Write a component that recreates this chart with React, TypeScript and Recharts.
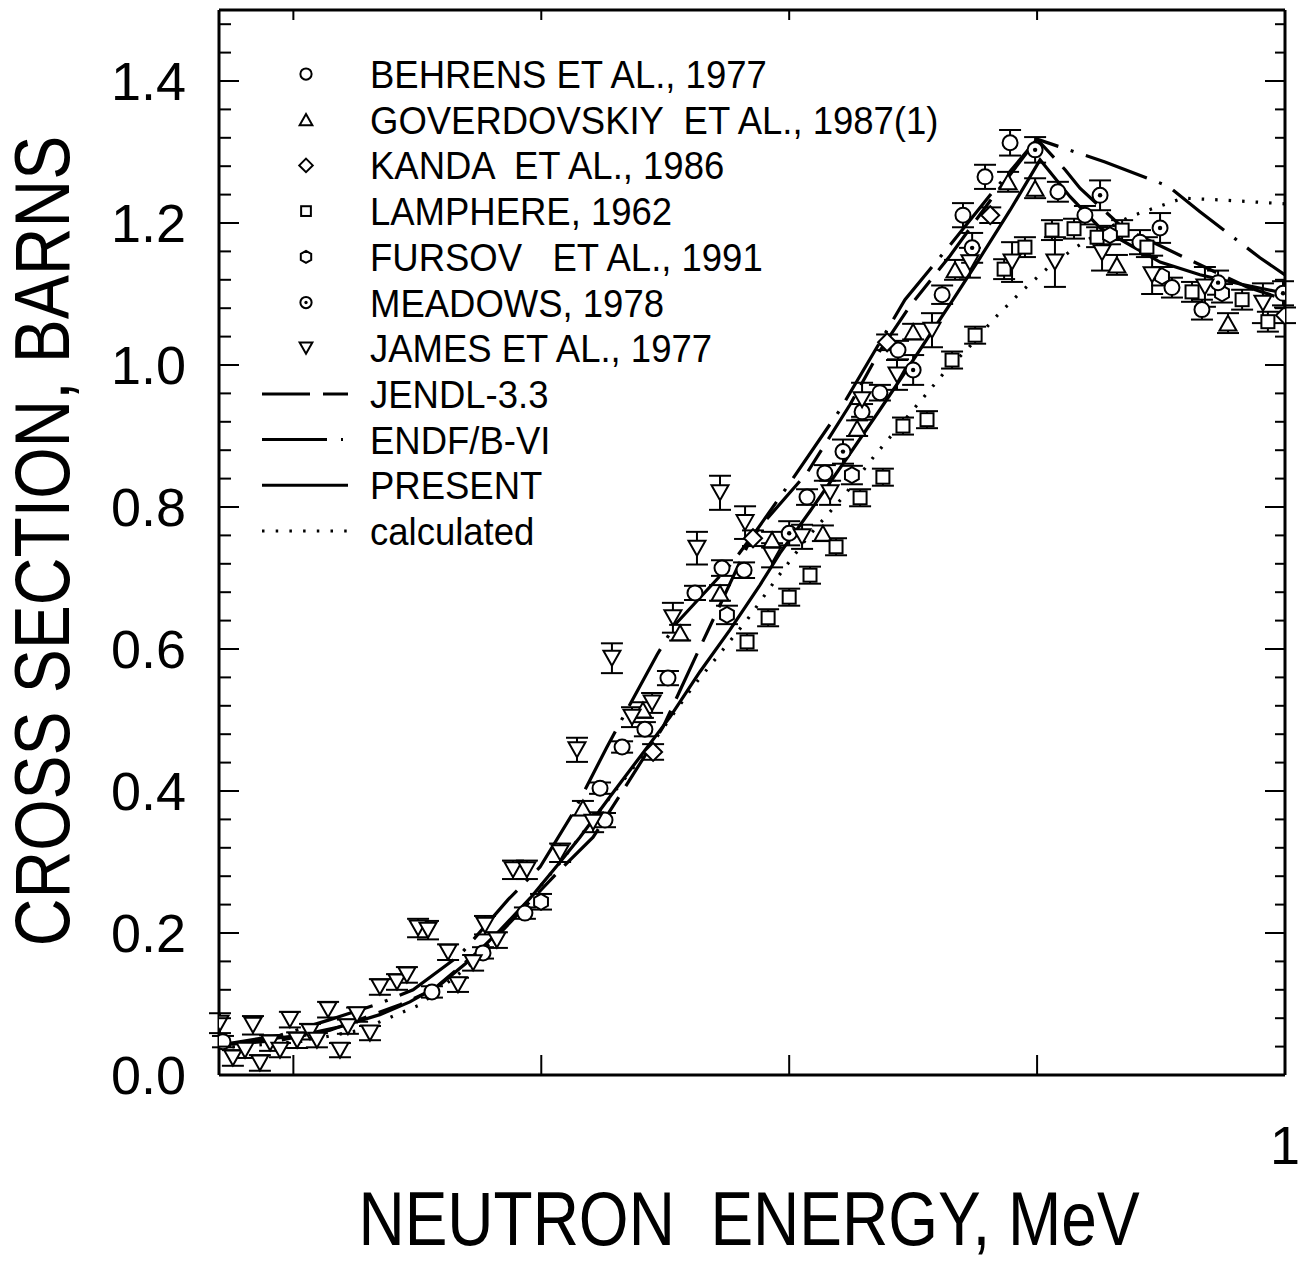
import React from 'react';
import { ComposedChart, Line, Scatter, XAxis, YAxis, ErrorBar, ReferenceLine } from 'recharts';

const FONT = '"Liberation Sans", Arial, Helvetica, sans-serif';

const W = 1305;
const H = 1272;
// plot frame, page pixels
const PLOT = { left: 219, right: 1285, top: 10, bottom: 1075 };
const AXIS_W = 40;
const AXIS_H = 40;

const X_DOMAIN = [0.57, 1.0];
const Y_DOMAIN = [0, 1.5];
const X_TICKS = [0.6, 0.7, 0.8, 0.9, 1.0];
const Y_TICKS = [
  0, 0.04, 0.08, 0.12, 0.16, 0.2, 0.24, 0.28, 0.32, 0.36, 0.4, 0.44, 0.48, 0.52, 0.56,
  0.6, 0.64, 0.68, 0.72, 0.76, 0.8, 0.84, 0.88, 0.92, 0.96, 1.0, 1.04, 1.08, 1.12, 1.16,
  1.2, 1.24, 1.28, 1.32, 1.36, 1.4, 1.44, 1.48,
];
const Y_LABELS = ['0.0', '0.2', '0.4', '0.6', '0.8', '1.0', '1.2', '1.4'];

// [energy MeV, cross section b, error b]
const BEHRENS = [
  [0.5716, 0.047, 0.008], [0.6559, 0.117, 0.008], [0.6765, 0.172, 0.008], [0.6934, 0.228, 0.008],
  [0.7237, 0.404, 0.008], [0.7257, 0.359, 0.010], [0.7326, 0.462, 0.008], [0.7418, 0.487, 0.010],
  [0.7511, 0.559, 0.010], [0.762, 0.679, 0.010], [0.7729, 0.714, 0.011], [0.7818, 0.711, 0.011],
  [0.8072, 0.814, 0.011], [0.8144, 0.848, 0.011], [0.8294, 0.934, 0.011], [0.8366, 0.961, 0.011],
  [0.8439, 1.021, 0.013], [0.8617, 1.099, 0.013], [0.8701, 1.211, 0.017], [0.879, 1.265, 0.017],
  [0.8891, 1.313, 0.018], [0.9084, 1.244, 0.014], [0.9193, 1.211, 0.013], [0.9415, 1.173, 0.017],
  [0.9544, 1.109, 0.014], [0.9665, 1.078, 0.014],
];
const GOVERDOVSKIY = [
  [0.7168, 0.376, 0.010], [0.741, 0.514, 0.011], [0.756, 0.623, 0.011], [0.7721, 0.679, 0.011],
  [0.7931, 0.754, 0.011], [0.8136, 0.763, 0.011], [0.8274, 0.911, 0.011], [0.85, 1.047, 0.011],
  [0.8669, 1.134, 0.014], [0.8883, 1.258, 0.014], [0.8992, 1.249, 0.014], [0.9322, 1.141, 0.014],
  [0.977, 1.059, 0.014],
];
const KANDA = [
  [0.7451, 0.455, 0.011], [0.7854, 0.756, 0.011], [0.8395, 1.032, 0.011], [0.8811, 1.211, 0.011],
  [1.0, 1.070, 0.011],
];
const LAMPHERE = [
  [0.783, 0.610, 0.012], [0.7915, 0.644, 0.012], [0.8, 0.673, 0.012], [0.8084, 0.704, 0.012],
  [0.8189, 0.744, 0.012], [0.8286, 0.813, 0.012], [0.8378, 0.842, 0.012], [0.8459, 0.914, 0.012],
  [0.8556, 0.923, 0.012], [0.8657, 1.007, 0.012], [0.875, 1.042, 0.012], [0.8867, 1.135, 0.014],
  [0.8951, 1.166, 0.014], [0.906, 1.190, 0.014], [0.9149, 1.192, 0.014], [0.9242, 1.180, 0.014],
  [0.9343, 1.190, 0.014], [0.9443, 1.166, 0.014], [0.9625, 1.103, 0.014], [0.9827, 1.092, 0.014],
  [0.9931, 1.061, 0.014],
];
const FURSOV = [
  [0.6999, 0.244, 0.011], [0.7749, 0.648, 0.013], [0.8253, 0.845, 0.013], [0.9294, 1.183, 0.013],
  [0.9504, 1.125, 0.013], [0.9746, 1.101, 0.013],
];
const MEADOWS = [
  [0.8, 0.763, 0.017], [0.8217, 0.878, 0.017], [0.85, 0.993, 0.021], [0.8738, 1.165, 0.021],
  [0.8992, 1.303, 0.018], [0.9254, 1.239, 0.021], [0.9496, 1.193, 0.021], [0.973, 1.116, 0.017],
  [0.9992, 1.101, 0.017],
];
const JAMES = [
  [0.5704, 0.073, 0.014], [0.5756, 0.024, 0.011], [0.5805, 0.035, 0.011], [0.5837, 0.070, 0.013],
  [0.5865, 0.017, 0.011], [0.5906, 0.045, 0.011], [0.5946, 0.035, 0.010], [0.5986, 0.078, 0.011],
  [0.6015, 0.049, 0.011], [0.6067, 0.061, 0.011], [0.6095, 0.049, 0.010], [0.614, 0.092, 0.011],
  [0.6188, 0.035, 0.010], [0.622, 0.068, 0.010], [0.6257, 0.085, 0.010], [0.6309, 0.059, 0.010],
  [0.6349, 0.124, 0.011], [0.6418, 0.131, 0.011], [0.6458, 0.141, 0.011], [0.6503, 0.207, 0.013],
  [0.6543, 0.204, 0.013], [0.6624, 0.173, 0.011], [0.6664, 0.127, 0.010], [0.6725, 0.158, 0.011],
  [0.6773, 0.211, 0.013], [0.6821, 0.190, 0.011], [0.6886, 0.289, 0.013], [0.6942, 0.289, 0.013],
  [0.7076, 0.313, 0.013], [0.7144, 0.458, 0.017], [0.7209, 0.356, 0.014], [0.7285, 0.587, 0.021],
  [0.7366, 0.504, 0.014], [0.7447, 0.524, 0.014], [0.7531, 0.644, 0.021], [0.7628, 0.742, 0.023],
  [0.7721, 0.820, 0.024], [0.7822, 0.778, 0.023], [0.7931, 0.732, 0.017], [0.8052, 0.758, 0.017],
  [0.8165, 0.820, 0.017], [0.8294, 0.951, 0.024], [0.8435, 0.986, 0.021], [0.8576, 1.049, 0.024],
  [0.8729, 1.144, 0.021], [0.8899, 1.145, 0.028], [0.9072, 1.145, 0.035], [0.9262, 1.158, 0.025],
  [0.9464, 1.127, 0.027], [0.9677, 1.110, 0.028], [0.9911, 1.087, 0.028],
];

// evaluated curves: [energy MeV, cross section b]
const JENDL = [
  [0.57, 0.042], [0.5946, 0.049], [0.6148, 0.063], [0.643, 0.099], [0.6563, 0.120], [0.6834, 0.200],
  [0.7076, 0.289], [0.7209, 0.335], [0.733, 0.401], [0.737, 0.423], [0.7491, 0.490], [0.7632, 0.596],
  [0.7721, 0.662], [0.783, 0.744], [0.7882, 0.772], [0.8072, 0.848], [0.8245, 0.944], [0.8366, 1.020],
  [0.8487, 1.083], [0.8649, 1.154], [0.881, 1.231], [0.9, 1.318], [0.9113, 1.275], [0.9173, 1.249],
  [0.9347, 1.193], [0.9597, 1.151], [0.9847, 1.110], [1.0, 1.092],
];
const ENDF = [
  [0.57, 0.042], [0.5946, 0.056], [0.6148, 0.078], [0.6349, 0.101], [0.6483, 0.120], [0.6672, 0.169],
  [0.6866, 0.247], [0.6995, 0.293], [0.7128, 0.369], [0.7265, 0.462], [0.733, 0.504], [0.7467, 0.592],
  [0.7539, 0.634], [0.7769, 0.721], [0.787, 0.768], [0.8003, 0.834], [0.8205, 0.937], [0.8354, 1.025],
  [0.8467, 1.092], [0.8649, 1.169], [0.881, 1.239], [0.9, 1.318], [0.9153, 1.300], [0.9274, 1.286],
  [0.9528, 1.252], [0.9657, 1.216], [0.9899, 1.151], [1.0, 1.127],
];
const PRESENT = [
  [0.57, 0.042], [0.5865, 0.049], [0.6027, 0.056], [0.6188, 0.068], [0.6349, 0.085], [0.647, 0.103],
  [0.6591, 0.127], [0.6712, 0.162], [0.6834, 0.204], [0.6955, 0.249], [0.7076, 0.300], [0.7156, 0.335],
  [0.7277, 0.392], [0.7398, 0.448], [0.7519, 0.504], [0.764, 0.568], [0.7761, 0.627], [0.7882, 0.690],
  [0.7963, 0.735], [0.8084, 0.794], [0.8233, 0.869], [0.8366, 0.937], [0.8487, 1.000], [0.8661, 1.092],
  [0.877, 1.151], [0.8891, 1.218], [0.9012, 1.289], [0.9133, 1.237], [0.9254, 1.193], [0.9375, 1.169],
  [0.9496, 1.145], [0.9657, 1.127], [0.9819, 1.114], [1.0, 1.101],
];
const CALCULATED = [
  [0.57, 0.038], [0.6027, 0.047], [0.6269, 0.063], [0.6511, 0.099], [0.6712, 0.155], [0.6914, 0.232],
  [0.7076, 0.299], [0.7237, 0.373], [0.7439, 0.463], [0.7612, 0.547], [0.783, 0.641], [0.7951, 0.700],
  [0.8076, 0.758], [0.8217, 0.814], [0.8346, 0.873], [0.8483, 0.930], [0.8625, 0.989], [0.8725, 1.025],
  [0.8826, 1.065], [0.8935, 1.103], [0.9044, 1.137], [0.9157, 1.166], [0.9254, 1.187], [0.9375, 1.209],
  [0.9488, 1.223], [0.9589, 1.235], [0.9766, 1.232], [1.0, 1.227],
];

const MARKER_SERIES = [
  { label: 'BEHRENS ET AL., 1977', kind: 'circle', data: BEHRENS },
  { label: 'GOVERDOVSKIY  ET AL., 1987(1)', kind: 'triup', data: GOVERDOVSKIY },
  { label: 'KANDA  ET AL., 1986', kind: 'diamond', data: KANDA },
  { label: 'LAMPHERE, 1962', kind: 'square', data: LAMPHERE },
  { label: 'FURSOV   ET AL., 1991', kind: 'hexagon', data: FURSOV },
  { label: 'MEADOWS, 1978', kind: 'dotcircle', data: MEADOWS },
  { label: 'JAMES ET AL., 1977', kind: 'tridown', data: JAMES },
];
const LINE_SERIES = [
  { label: 'JENDL-3.3', data: JENDL, dash: '50 13 25 13', legendDash: '48 13 25' },
  { label: 'ENDF/B-VI', data: ENDF, dash: '65 13 3 13', legendDash: '65 14 2' },
  { label: 'PRESENT', data: PRESENT, dash: undefined, legendDash: undefined },
  { label: 'calculated', data: CALCULATED, dash: '2.5 11', legendDash: '2.5 11.2' },
];

const toPoints = (rows: number[][]) => rows.map(([x, y, err]) => ({ x, y, err }));

function Mark({ kind, cx, cy, s = 1 }: { kind: string; cx: number; cy: number; s?: number }) {
  const st = { fill: '#fff', stroke: '#000', strokeWidth: 2 };
  if (kind === 'circle') return <circle cx={cx} cy={cy} r={7.5 * s} {...st} />;
  if (kind === 'dotcircle')
    return (
      <g>
        <circle cx={cx} cy={cy} r={7.5 * s} {...st} />
        <circle cx={cx} cy={cy} r={2.2 * s} fill="#000" />
      </g>
    );
  if (kind === 'triup' || kind === 'tridown') {
    const w = 8.5 * s;
    const h = 7.5 * s;
    const d = kind === 'triup' ? 1 : -1;
    return <polygon points={`${cx},${cy - d * h} ${cx + w},${cy + d * h} ${cx - w},${cy + d * h}`} {...st} />;
  }
  if (kind === 'diamond') {
    const r = 9 * s;
    return <polygon points={`${cx},${cy - r} ${cx + r},${cy} ${cx},${cy + r} ${cx - r},${cy}`} {...st} />;
  }
  if (kind === 'square') {
    const a = 6.5 * s;
    return <rect x={cx - a} y={cy - a} width={2 * a} height={2 * a} {...st} />;
  }
  // hexagon, pointy top
  const r = 8 * s;
  const pts = [-90, -30, 30, 90, 150, 210]
    .map((a) => `${cx + r * Math.cos((a * Math.PI) / 180)},${cy + r * Math.sin((a * Math.PI) / 180)}`)
    .join(' ');
  return <polygon points={pts} {...st} />;
}

function XTick(props: any) {
  const { x, payload } = props;
  return (
    <g>
      <line x1={x} x2={x} y1={PLOT.bottom} y2={PLOT.bottom - 20} stroke="#000" strokeWidth={2} />
      <line x1={x} x2={x} y1={PLOT.top} y2={PLOT.top + 10} stroke="#000" strokeWidth={2} />
      {payload.value === 1 && (
        <text x={x} y={1164} textAnchor="middle" fontSize={54} fontFamily={FONT} fill="#000">
          1
        </text>
      )}
    </g>
  );
}

function YTick(props: any) {
  const { y, payload } = props;
  const idx = Math.round(payload.value / 0.2);
  const major = Math.abs(payload.value - idx * 0.2) < 1e-6;
  const len = major ? 20 : 12;
  return (
    <g>
      <line x1={PLOT.left} x2={PLOT.left + len} y1={y} y2={y} stroke="#000" strokeWidth={2} />
      <line x1={PLOT.right} x2={PLOT.right - (major ? 20 : 10)} y1={y} y2={y} stroke="#000" strokeWidth={2} />
      {major && (
        <text x={PLOT.left - 33} y={y + 19} textAnchor="end" fontSize={54} fontFamily={FONT} fill="#000">
          {Y_LABELS[idx]}
        </text>
      )}
    </g>
  );
}

const LEG_X_SYM = 306;
const LEG_X_TEXT = 370;
const LEG_Y0 = 74;
const LEG_DY = 45.7;

export default function App() {
  return (
    <div style={{ position: 'absolute', left: 0, top: 0, width: W, height: H, background: '#fff' }}>
      <ComposedChart
        width={W}
        height={H}
        margin={{ top: PLOT.top, right: W - PLOT.right, bottom: H - PLOT.bottom - AXIS_H, left: PLOT.left - AXIS_W }}
      >
        <XAxis
          type="number"
          dataKey="x"
          domain={X_DOMAIN}
          ticks={X_TICKS}
          allowDataOverflow
          interval={0}
          tickLine={false}
          tickSize={0}
          height={AXIS_H}
          axisLine={{ stroke: '#000', strokeWidth: 3 }}
          tick={(p: any) => <XTick {...p} />}
        />
        <YAxis
          type="number"
          domain={Y_DOMAIN}
          ticks={Y_TICKS}
          allowDataOverflow
          interval={0}
          tickLine={false}
          tickSize={0}
          width={AXIS_W}
          axisLine={{ stroke: '#000', strokeWidth: 3 }}
          tick={(p: any) => <YTick {...p} />}
        />
        <ReferenceLine y={1.5} stroke="#000" strokeWidth={3} />
        <ReferenceLine x={1.0} stroke="#000" strokeWidth={3} />
        {MARKER_SERIES.map((s) => (
          <Scatter
            key={s.label}
            name={s.label}
            data={toPoints(s.data)}
            dataKey="y"
            isAnimationActive={false}
            shape={(p: any) => <Mark kind={s.kind} cx={p.cx} cy={p.cy} />}
          >
            <ErrorBar dataKey="err" direction="y" width={11} stroke="#000" strokeWidth={2} />
          </Scatter>
        ))}
        {LINE_SERIES.map((s) => (
          <Line
            key={s.label}
            name={s.label}
            data={toPoints(s.data)}
            dataKey="y"
            type="linear"
            stroke="#000"
            strokeWidth={3.2}
            strokeDasharray={s.dash}
            dot={false}
            activeDot={false}
            isAnimationActive={false}
          />
        ))}
      </ComposedChart>
      <svg
        width={W}
        height={H}
        style={{ position: 'absolute', left: 0, top: 0, pointerEvents: 'none' }}
        fontFamily={FONT}
      >
        {MARKER_SERIES.map((s, i) => {
          const y = LEG_Y0 + i * LEG_DY;
          return (
            <g key={s.label}>
              <Mark kind={s.kind} cx={LEG_X_SYM} cy={y} s={0.75} />
              <text
                transform={`translate(${LEG_X_TEXT},${y + 14}) scale(1,1.08)`}
                fontSize={36.5}
                fill="#000"
                style={{ whiteSpace: 'pre' }}
              >
                {s.label}
              </text>
            </g>
          );
        })}
        {LINE_SERIES.map((s, i) => {
          const y = LEG_Y0 + (MARKER_SERIES.length + i) * LEG_DY;
          return (
            <g key={s.label}>
              <line x1={262} x2={348} y1={y} y2={y} stroke="#000" strokeWidth={3} strokeDasharray={s.legendDash} />
              <text transform={`translate(${LEG_X_TEXT},${y + 14}) scale(1,1.08)`} fontSize={36.5} fill="#000">
                {s.label}
              </text>
            </g>
          );
        })}
        <text
          transform="translate(69,541) rotate(-90) scale(1,1.17)"
          textAnchor="middle"
          fontSize={66}
          fill="#000"
          style={{ whiteSpace: 'pre' }}
        >
          CROSS SECTION, BARNS
        </text>
        <text
          transform="translate(749,1245) scale(1,1.2)"
          textAnchor="middle"
          fontSize={64}
          fill="#000"
          style={{ whiteSpace: 'pre' }}
        >
          NEUTRON  ENERGY, MeV
        </text>
      </svg>
    </div>
  );
}
